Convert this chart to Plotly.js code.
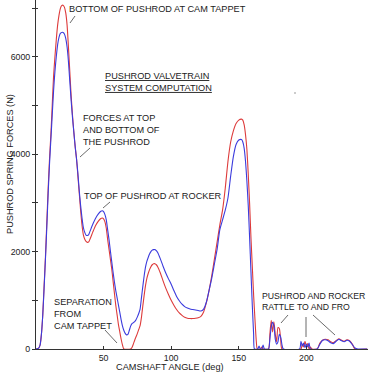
<!DOCTYPE html>
<html>
<head>
<meta charset="utf-8">
<script src="https://cdn.plot.ly/plotly-3.0.1.min.js"></script>
<style>html,body{margin:0;padding:0;background:#fff;}#chart{width:368px;height:374px;}</style>
</head>
<body>
<div id="chart"></div>
<script>
// Camshaft angle (deg) and forces (N)
const redAngle = [0,2,3,4,5,6,7,8,9,10,11,12,13,14,15,16,17,18,19,20,21,22,23,24,25,26,27,28,29,30,31,32,33,34,35,36,37,38,39,40,42,44,46,48,49,50,51,52,53,54,55,56,57,58,59,60,61,62,63,64,65,70,71,72,73,74,75,76,77,78,79,80,81,82,83,84,85,86,87,88,89,90,92,94,96,98,100,102,104,106,108,110,112,114,116,118,120,122,124,126,128,130,132,134,136,138,140,142,144,146,148,150,152,153,154,155,156,157,158,159,160,161,162,163,163.7,166,167,168,172,173,174,175,176,177,178,179,180,181,182,196,197,198,199,200,201,202,203,204,208,210,212,214,216,218,220,222,224,226,228,230,232,234,236,245];
const redForce = [0,20,80,300,700,1300,1900,2600,3300,3900,4400,5000,5600,6000,6350,6650,6850,6990,7050,7060,7020,6900,6650,6200,5700,5200,4800,4450,4150,3900,3550,3200,2850,2550,2350,2260,2210,2190,2200,2260,2400,2530,2620,2680,2690,2670,2610,2480,2250,2050,1850,1650,1400,1150,900,700,500,350,200,80,0,0,30,100,180,250,320,400,480,650,880,1100,1300,1450,1550,1630,1690,1730,1750,1750,1730,1690,1560,1400,1250,1120,1000,900,810,740,690,650,630,625,625,630,640,670,760,950,1200,1500,1850,2200,2550,2850,3300,3850,4250,4480,4630,4700,4720,4700,4600,4400,4100,3600,3000,2300,1700,1100,600,150,0,0,40,0,0,300,590,350,560,300,150,440,420,200,0,0,100,40,160,60,110,0,40,0,0,120,180,200,190,150,130,170,210,180,160,190,170,100,0,0];

const blueAngle = [0,2,3,4,5,6,7,8,9,10,11,12,13,14,15,16,17,18,19,20,21,22,23,24,25,26,27,28,29,30,31,32,33,34,35,36,37,38,39,40,42,44,46,48,49,50,51,52,53,54,55,56,57,58,59,60,61,62,63,64,65,66,67,68,69,70,71,72,73,74,75,76,77,78,79,80,81,82,83,84,85,86,87,88,89,90,92,94,96,98,100,102,104,106,108,110,112,114,116,118,120,122,124,126,128,130,132,134,136,138,140,142,144,146,148,150,152,153,154,155,156,157,158,159,160,161,161.6,164,165,166,167,168,169,172,173,174,175,176,177,178,179,180,181,182,183,195,196,197,198,199,200,201,202,203,208,210,212,214,216,218,220,222,224,226,228,230,232,234,236,238,245];
const blueForce = [0,20,80,300,700,1250,1850,2500,3200,3800,4300,4800,5300,5700,6000,6250,6400,6480,6500,6500,6470,6380,6200,5900,5500,5100,4750,4450,4150,3900,3600,3250,2950,2700,2500,2400,2340,2330,2350,2420,2560,2680,2770,2830,2840,2820,2760,2650,2450,2250,2020,1800,1580,1380,1200,1050,900,750,600,470,380,320,290,300,380,470,520,540,560,600,660,730,820,1050,1280,1500,1680,1800,1880,1950,2000,2030,2040,2040,2020,1980,1850,1700,1560,1440,1330,1200,1080,990,920,870,840,820,810,800,790,780,820,960,1200,1450,1750,2050,2450,2650,2850,3100,3550,3950,4200,4290,4300,4250,4120,3850,3450,2950,2300,1600,900,300,0,0,60,0,0,80,0,0,200,450,550,480,200,100,150,300,250,80,0,0,160,60,120,30,100,40,120,0,0,100,180,190,170,130,110,160,200,170,150,180,160,90,20,0,0];

const yTickVals = [0,1000,2000,3000,4000,5000,6000,7000];
const yTickText = ['0','','2000','','4000','','6000',''];
const xTickVals = [50,100,150,200];
const xTickText = ['50','100','150','200'];

const FONT = 'Liberation Sans, Arial, Helvetica, sans-serif';
const FS = 8.8;
const FA = 9.2;
const TXT = '#222222';

// pixel helpers (plot area: left 36, top 0, width 332, height 349)
const L = 36, T = 0, W = 332, H = 349;
const px = x => (x - L) / W;
const py = y => (T + H - y) / H;

function note(text, x, y, xa, ya, extra) {
  return Object.assign({
    text: text, xref: 'paper', yref: 'paper', x: px(x), y: py(y),
    xanchor: xa, yanchor: ya, showarrow: false, align: 'left', borderpad: 0,
    font: {family: FONT, size: FA, color: TXT}
  }, extra || {});
}
function seg(x0, y0, x1, y1) {
  return {type: 'line', xref: 'paper', yref: 'paper', x0: px(x0), y0: py(y0), x1: px(x1), y1: py(y1),
          line: {color: '#444', width: 0.8}};
}

const data = [
  {x: redAngle, y: redForce, type: 'scatter', mode: 'lines', line: {color: '#dd3b3b', width: 1.1, shape: 'spline', smoothing: 0.6}, hoverinfo: 'skip'},
  {x: blueAngle, y: blueForce, type: 'scatter', mode: 'lines', line: {color: '#3b3bdd', width: 1.1, shape: 'spline', smoothing: 0.6}, hoverinfo: 'skip'},
  {x: [0], y: [0], yaxis: 'y2', type: 'scatter', mode: 'markers', marker: {opacity: 0}, hoverinfo: 'skip'}
];

const layout = {
  width: 368, height: 374,
  margin: {l: L, r: 0, t: T, b: 25},
  paper_bgcolor: '#ffffff', plot_bgcolor: '#ffffff',
  showlegend: false,
  font: {family: FONT, size: FS, color: TXT},
  xaxis: {
    range: [0, 245.6], showgrid: false, zeroline: false, showline: true, linecolor: '#333', linewidth: 1,
    tickmode: 'array', tickvals: xTickVals, ticktext: xTickText,
    ticks: 'inside', ticklen: 3, tickcolor: '#333', tickfont: {family: FONT, size: FS, color: TXT}
  },
  yaxis: {
    range: [0, 7166], showgrid: false, zeroline: false, showline: true, linecolor: '#333', linewidth: 1,
    tickmode: 'array', tickvals: yTickVals, ticktext: yTickText,
    ticks: 'outside', ticklen: 3, tickcolor: '#333', tickfont: {family: FONT, size: FS, color: TXT}
  },
  yaxis2: {
    overlaying: 'y', range: [0, 7166], showgrid: false, zeroline: false, showline: false,
    tickmode: 'array', tickvals: yTickVals, showticklabels: false,
    ticks: 'inside', ticklen: 2, tickcolor: '#333'
  },
  annotations: [
    note('BOTTOM OF PUSHROD AT CAM TAPPET', 68, 9.5, 'left', 'middle'),
    note('<u>PUSHROD VALVETRAIN</u><br><u>SYSTEM COMPUTATION</u>', 104, 82.5, 'left', 'middle'),
    note('FORCES AT TOP<br>AND BOTTOM OF<br>THE PUSHROD', 82, 130, 'left', 'middle'),
    note('TOP OF PUSHROD AT ROCKER', 83, 195.5, 'left', 'middle'),
    note('SEPARATION<br>FROM<br>CAM TAPPET', 53, 313.5, 'left', 'middle'),
    note('PUSHROD AND ROCKER<br>RATTLE TO AND FRO', 261, 301.5, 'left', 'middle', {font: {family: FONT, size: 8.7, color: TXT}}),
    note('PUSHROD SPRING FORCES (N)', 10, 164, 'center', 'middle', {textangle: -90}),
    note('CAMSHAFT ANGLE (deg)', 170, 366.5, 'center', 'middle')
  ],
  shapes: [
    seg(70, 23, 75, 16),
    seg(80, 157, 90, 148),
    seg(103, 208, 110, 202),
    seg(105, 330, 117, 343),
    seg(281, 323, 288, 315),
    seg(306, 317, 306, 337),
    seg(313, 315, 335, 335),
    {type: 'line', xref: 'paper', yref: 'paper', x0: px(294), y0: py(93), x1: px(296), y1: py(93), line: {color: '#999', width: 1}}
  ]
};

Plotly.newPlot('chart', data, layout, {staticPlot: true, displayModeBar: false});
</script>
</body>
</html>
